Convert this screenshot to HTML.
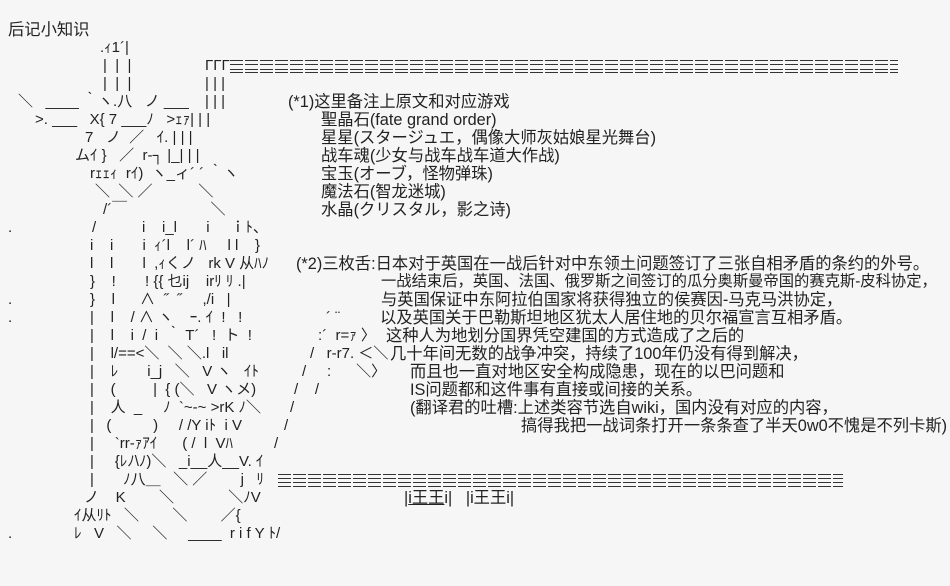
<!DOCTYPE html>
<html><head><meta charset="utf-8"><style>
html,body{margin:0;padding:0;}
body{width:950px;height:586px;background:#f6f6f6;position:relative;overflow:hidden;color:#222;
font-family:"Liberation Sans","Noto Sans CJK SC",sans-serif;font-size:15px;}
.t{position:absolute;white-space:pre;line-height:18px;}
.r{font-size:16.3px;}
.dl{position:absolute;height:1px;background:repeating-linear-gradient(90deg,#333 0 13px,transparent 13px 15px);}
</style></head><body>
<div class="t r" style="left:8px;top:21px">后记小知识</div>

<div class="t" style="left:100px;top:39px">.ｨ1´|</div>
<div class="t" style="left:103px;top:57px">|  |  |</div>
<div class="t" style="left:205px;top:57px">ΓΓΓ</div>
<div class="dl" style="left:230px;top:60px;width:668px"></div>
<div class="dl" style="left:230px;top:64px;width:668px"></div>
<div class="dl" style="left:230px;top:69px;width:668px"></div>
<div class="dl" style="left:230px;top:72px;width:668px"></div>
<div class="t" style="left:103px;top:75px">|  |  |</div>
<div class="t" style="left:205px;top:75px">| | |</div>
<div class="t" style="left:18px;top:93px">＼   ____ ｀ヽ.八   ノ ___</div>
<div class="t" style="left:205px;top:93px">| | |</div>
<div class="t" style="left:35px;top:111px">&gt;. ___   X{ 7 ___ﾉ   &gt;ｪｧ| | |</div>
<div class="t" style="left:85px;top:129px">7   ノ  ／   ｲ. | | |</div>
<div class="t" style="left:75px;top:147px">ムｲ }   ／  r‐┐ |_| | |</div>
<div class="t" style="left:90px;top:165px">rｪｪｨ  rｲ)  ヽ_ィ´ ´ ｀ヽ</div>
<div class="t" style="left:95px;top:183px">＼  ＼ ／           ＼</div>
<div class="t" style="left:103px;top:201px">/´￣                    ＼</div>
<div class="t" style="left:8px;top:219px">.</div>
<div class="t" style="left:92px;top:219px">/           i    i_l       i     ｉﾄ、</div>
<div class="t" style="left:90px;top:237px">i    i       i  ｨ´l    l´ ﾊ     l l    }</div>
<div class="t" style="left:90px;top:255px">l    l       l  ,ｨくノ   rk V 从ﾊﾉ</div>
<div class="t" style="left:90px;top:273px">}    !       ! {{ 乜ij    irﾘ ﾘ .|</div>
<div class="t" style="left:8px;top:291px">.</div>
<div class="t" style="left:90px;top:291px">}    l      ∧  ˝  ˝     ,/i   |</div>
<div class="t" style="left:8px;top:309px">.</div>
<div class="t" style="left:90px;top:309px">|    l    / ∧ ヽ    ｰ. ｲ  !   !</div>
<div class="t" style="left:90px;top:327px">|    l    i  /  i  ｀ T´   !  ト  !</div>
<div class="t" style="left:90px;top:345px">|    l/==&lt;＼  ＼ ＼.l   il</div>
<div class="t" style="left:90px;top:363px">|    ﾚ       i_j   ＼   V ヽ   ｲﾄ</div>
<div class="t" style="left:90px;top:381px">|    (         |  { (＼   V ヽメ)</div>
<div class="t" style="left:90px;top:399px">|    人  _     ﾉ  `~‐~ &gt;rK ﾉ＼</div>
<div class="t" style="left:90px;top:417px">|   (          )     / /Y iﾄ  i V</div>
<div class="t" style="left:90px;top:435px">|     `rr‐ｧｱｲ      ( /  l  Vﾊ</div>
<div class="t" style="left:90px;top:453px">|     {ﾚﾉ\ﾉ)＼   _i__人__V. ｲ</div>
<div class="t" style="left:90px;top:471px">|       ﾉ八＿   ＼ ／        j   ﾘ</div>
<div class="dl" style="left:278px;top:474px;width:565px"></div>
<div class="dl" style="left:278px;top:478px;width:565px"></div>
<div class="dl" style="left:278px;top:482px;width:565px"></div>
<div class="dl" style="left:278px;top:486px;width:565px"></div>
<div class="t" style="left:84px;top:489px">ノ    K        ＼             ＼ﾉV</div>
<div class="t" style="left:74px;top:507px">ｲ从ﾘﾄ   ＼        ＼        ／{</div>
<div class="t" style="left:8px;top:525px">.</div>
<div class="t" style="left:74px;top:525px">ﾚ   V   ＼     ＼     ____  r i f Y ﾄ/</div>

<div class="t" style="left:326px;top:309px">´ ¨</div>
<div class="t" style="left:318px;top:327px">:´  r=ｧ 〉</div>
<div class="t" style="left:310px;top:345px">/   r‐r7. ＜＼</div>
<div class="t" style="left:302px;top:363px">/     :      ＼〉</div>
<div class="t" style="left:294px;top:381px">/    /</div>
<div class="t" style="left:290px;top:399px">/</div>
<div class="t" style="left:284px;top:417px">/</div>
<div class="t" style="left:274px;top:435px">/</div>

<div class="t r" style="left:288px;top:93px">(*1)这里备注上原文和对应游戏</div>
<div class="t r" style="left:321px;top:111px">聖晶石(fate grand order)</div>
<div class="t r" style="left:321px;top:129px">星星(スタージュエ，偶像大师灰姑娘星光舞台)</div>
<div class="t r" style="left:321px;top:147px">战车魂(少女与战车战车道大作战)</div>
<div class="t r" style="left:321px;top:165px">宝玉(オーブ，怪物弹珠)</div>
<div class="t r" style="left:321px;top:183px">魔法石(智龙迷城)</div>
<div class="t r" style="left:321px;top:201px">水晶(クリスタル，影之诗)</div>

<div class="t r" style="left:296px;top:255px">(*2)三枚舌:日本对于英国在一战后针对中东领土问题签订了三张自相矛盾的条约的外号。</div>
<div class="t" style="left:381px;top:273px;font-size:15.3px">一战结束后，英国、法国、俄罗斯之间签订的瓜分奥斯曼帝国的赛克斯-皮科协定，</div>
<div class="t r" style="left:381px;top:291px">与英国保证中东阿拉伯国家将获得独立的侯赛因-马克马洪协定，</div>
<div class="t r" style="left:380px;top:309px">以及英国关于巴勒斯坦地区犹太人居住地的贝尔福宣言互相矛盾。</div>
<div class="t r" style="left:386px;top:327px">这种人为地划分国界凭空建国的方式造成了之后的</div>
<div class="t r" style="left:390px;top:345px">几十年间无数的战争冲突，持续了100年仍没有得到解决，</div>
<div class="t r" style="left:410px;top:363px">而且也一直对地区安全构成隐患，现在的以巴问题和</div>
<div class="t r" style="left:410px;top:381px">IS问题都和这件事有直接或间接的关系。</div>
<div class="t r" style="left:410px;top:399px">(翻译君的吐槽:上述类容节选自wiki，国内没有对应的内容，</div>
<div class="t r" style="left:521px;top:417px">搞得我把一战词条打开一条条查了半天0w0不愧是不列卡斯)</div>

<div class="t r" style="left:404px;top:489px">|<u>i王王</u>i|   |i王王i|</div>
</body></html>
